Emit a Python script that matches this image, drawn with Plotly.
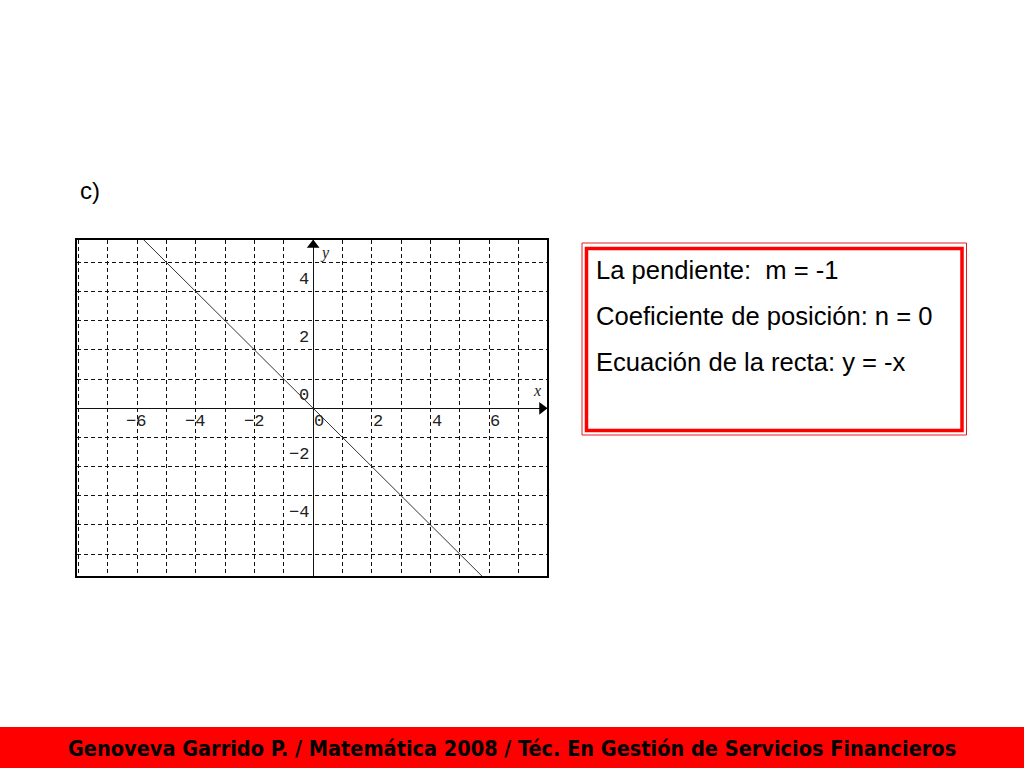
import plotly.graph_objects as go

# Recta y = -x (dos puntos, el eje recorta el resto)
line_x = [-6, 6]
line_y = [6, -6]

# Etiquetas de los ejes
x_ticks = [-6, -4, -2, 0, 2, 4, 6]
y_ticks = [4, 2, 0, -2, -4]

x_range = [-8.05, 7.97]
y_range = [-5.75, 5.77]

info_lines = [
    "La pendiente:  m = -1",
    "Coeficiente de posición: n = 0",
    "Ecuación de la recta: y = -x",
]
footer_text = "Genoveva Garrido P. / Matemática 2008 / Téc. En Gestión de Servicios Financieros"

W, H = 1024, 768

def px(x):
    return x / W

def py(y):
    return 1 - y / H

tick_font = dict(family="Liberation Mono, DejaVu Sans Mono, monospace", size=17, color="#222")

fig = go.Figure()

# la recta
fig.add_trace(go.Scatter(
    x=line_x, y=line_y, mode="lines",
    line=dict(color="#333333", width=1),
    hoverinfo="skip",
))

# flechas de los ejes
fig.add_trace(go.Scatter(
    x=[0], y=[y_range[1] - 0.17], mode="markers",
    marker=dict(symbol="triangle-up", size=11, color="black"),
    hoverinfo="skip", cliponaxis=False,
))
fig.add_trace(go.Scatter(
    x=[x_range[1] - 0.17], y=[0], mode="markers",
    marker=dict(symbol="triangle-right", size=11, color="black"),
    hoverinfo="skip", cliponaxis=False,
))

annotations = []

# etiquetas del eje x
for t in x_ticks:
    annotations.append(dict(
        x=t, y=0, xref="x", yref="y",
        text=("\u2212" + str(-t)) if t < 0 else str(t),
        showarrow=False, xanchor="center", yanchor="top",
        xshift=-1 if t < 0 else 6, yshift=-2, font=tick_font,
    ))

# etiquetas del eje y
for t in y_ticks:
    annotations.append(dict(
        x=0, y=t, xref="x", yref="y",
        text=("\u2212" + str(-t)) if t < 0 else str(t),
        showarrow=False, xanchor="right", yanchor="bottom",
        xshift=-2, yshift=1, font=tick_font,
    ))

# nombres de ejes
axis_font = dict(family="Liberation Serif, DejaVu Serif, serif", size=16, color="#222")
annotations.append(dict(x=0, y=y_range[1], xref="x", yref="y", text="<i>y</i>",
                        showarrow=False, xanchor="left", yanchor="top",
                        xshift=5, yshift=-2, font=axis_font))
annotations.append(dict(x=x_range[1], y=0, xref="x", yref="y", text="<i>x</i>",
                        showarrow=False, xanchor="right", yanchor="bottom",
                        xshift=-4, yshift=7, font=axis_font))

# "c)"
annotations.append(dict(x=px(78), y=py(190), xref="paper", yref="paper", text="c)",
                        showarrow=False, xanchor="left", yanchor="middle",
                        font=dict(family="Liberation Sans, Arial, sans-serif", size=24, color="black")))

# texto del recuadro
for i, s in enumerate(info_lines):
    annotations.append(dict(x=px(594), y=py(270 + 46 * i), xref="paper", yref="paper", text=s,
                            showarrow=False, xanchor="left", yanchor="middle",
                            font=dict(family="Liberation Sans, Arial, sans-serif", size=25.6, color="black")))

# pie de página
annotations.append(dict(x=px(512), y=py(748), xref="paper", yref="paper", text="<b>" + footer_text + "</b>",
                        showarrow=False, xanchor="center", yanchor="middle",
                        font=dict(family="Liberation Sans Narrow, DejaVu Sans Condensed, Arial Narrow, sans-serif",
                                  size=21.5, color="black")))

shapes = [
    # banda roja inferior
    dict(type="rect", xref="paper", yref="paper", x0=0, x1=1, y0=0, y1=py(727),
         fillcolor="#FF0000", line=dict(width=0), layer="below"),
    # recuadro rojo doble
    dict(type="rect", xref="paper", yref="paper", x0=px(582), x1=px(966.5), y0=py(435), y1=py(243),
         line=dict(color="#E02020", width=1)),
    dict(type="rect", xref="paper", yref="paper", x0=px(586.5), x1=px(962), y0=py(430.5), y1=py(248.5),
         line=dict(color="#FF0000", width=3.5)),
]

fig.update_layout(
    width=W, height=H,
    margin=dict(l=0, r=0, t=0, b=0),
    paper_bgcolor="white", plot_bgcolor="white",
    showlegend=False,
    annotations=annotations,
    shapes=shapes,
    xaxis=dict(
        domain=[px(77), px(547)], range=x_range,
        dtick=1, tick0=0, showticklabels=False, ticks="",
        showgrid=True, gridcolor="#111", gridwidth=1, griddash="4px,3px",
        zeroline=True, zerolinecolor="#111", zerolinewidth=1,
        showline=True, mirror=True, linecolor="black", linewidth=2,
        fixedrange=True,
    ),
    yaxis=dict(
        domain=[py(576), py(240)], range=y_range,
        dtick=1, tick0=0, showticklabels=False, ticks="",
        showgrid=True, gridcolor="#111", gridwidth=1, griddash="4px,3px",
        zeroline=True, zerolinecolor="#111", zerolinewidth=1,
        showline=True, mirror=True, linecolor="black", linewidth=2,
        fixedrange=True,
    ),
)

# sin el margen por defecto del navegador, para que la figura ocupe la ventana entera
fig.write_html("out.html", config={"displayModeBar": False},
               post_script="document.body.style.margin='0';")
